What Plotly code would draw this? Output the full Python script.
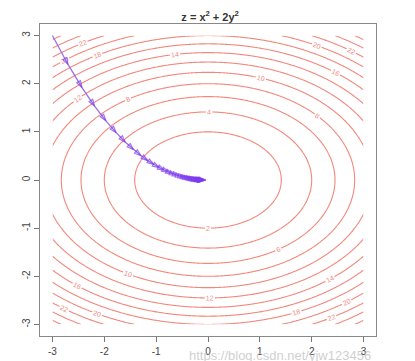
import numpy as np
import plotly.graph_objects as go

# Contour function grid (z = x^2 + 2y^2), levels 2..26 step 2
x_grid = np.linspace(-3, 3, 241)
y_grid = np.linspace(-3, 3, 241)
level_start, level_end, level_step = 2, 26, 2

# Gradient descent path
path_x = [-3.000, -2.700, -2.430, -2.187, -1.968, -1.771, -1.594, -1.435, -1.291, -1.162,
          -1.046, -0.941, -0.847, -0.763, -0.686, -0.618, -0.556, -0.500, -0.450, -0.405,
          -0.365, -0.328, -0.295, -0.266, -0.239, -0.215, -0.194, -0.175, -0.157, -0.141,
          -0.127, -0.114, -0.103, -0.093, -0.083, -0.075, -0.068, -0.061, -0.055, -0.049,
          -0.044]
path_y = [3.000, 2.400, 1.920, 1.536, 1.229, 0.983, 0.786, 0.629, 0.503, 0.403,
          0.322, 0.258, 0.206, 0.165, 0.132, 0.106, 0.084, 0.068, 0.054, 0.043,
          0.035, 0.028, 0.022, 0.018, 0.014, 0.011, 0.009, 0.007, 0.006, 0.005,
          0.004, 0.003, 0.002, 0.002, 0.001, 0.001, 0.001, 0.001, 0.000, 0.000,
          0.000]

tick_vals = [-3, -2, -1, 0, 1, 2, 3]
tick_text = ["-3", "-2", "-1", "0", "1", "2", "3"]

X, Y = np.meshgrid(x_grid, y_grid)
Z = X**2 + 2 * Y**2

fig = go.Figure()
fig.add_trace(go.Contour(
    x=x_grid, y=y_grid, z=Z,
    contours=dict(start=level_start, end=level_end, size=level_step,
                  coloring="lines", showlabels=True,
                  labelfont=dict(size=7, color="#f28a7f", family="Liberation Sans")),
    colorscale=[[0, "#f3877b"], [1, "#f3877b"]],
    showscale=False,
    line=dict(width=1.1),
    hoverinfo="skip",
))

sizes = [0] + [7] * (len(path_x) - 1)
fig.add_trace(go.Scatter(
    x=path_x, y=path_y, mode="lines+markers",
    line=dict(color="#9a70e8", width=1.3),
    marker=dict(symbol="arrow-open", size=sizes, angleref="previous",
                color="#7d3cf0", line=dict(width=1.2, color="#7d3cf0")),
    showlegend=False,
))

axis_common = dict(
    tickmode="array", tickvals=tick_vals, ticktext=tick_text,
    ticks="outside", ticklen=5, tickcolor="#777", tickwidth=1,
    showgrid=False, zeroline=False,
    showline=True, linecolor="#888", linewidth=1.2, mirror=True,
    tickfont=dict(family="Liberation Sans", size=10, color="#444"),
)

fig.update_layout(
    width=415, height=361,
    margin=dict(l=32, r=47, t=16, b=29),
    paper_bgcolor="white", plot_bgcolor="white",
    title=dict(text="<b>z = x<sup>2</sup> + 2y<sup>2</sup></b>", x=0.487, xanchor="center",
               y=0.985, yanchor="top",
               font=dict(family="Liberation Sans", size=11, color="#333")),
    xaxis=dict(range=[-3.24, 3.24], ticklabelstandoff=1, **axis_common),
    yaxis=dict(range=[-3.24, 3.24], tickangle=-90, **axis_common),
    showlegend=False,
)

fig.add_shape(type="line", xref="paper", yref="paper",
              x0=1.11, x1=1.11, y0=-0.1, y1=1.1,
              line=dict(color="#dddddd", width=2))

fig.add_annotation(text="https://blog.csdn.net/yjw123456", xref="paper", yref="paper",
                   x=0.99, y=-0.062, xanchor="right", yanchor="middle", showarrow=False,
                   font=dict(family="Liberation Sans", size=13, color="rgba(190,190,190,0.75)"))

fig.write_html("out.html")
